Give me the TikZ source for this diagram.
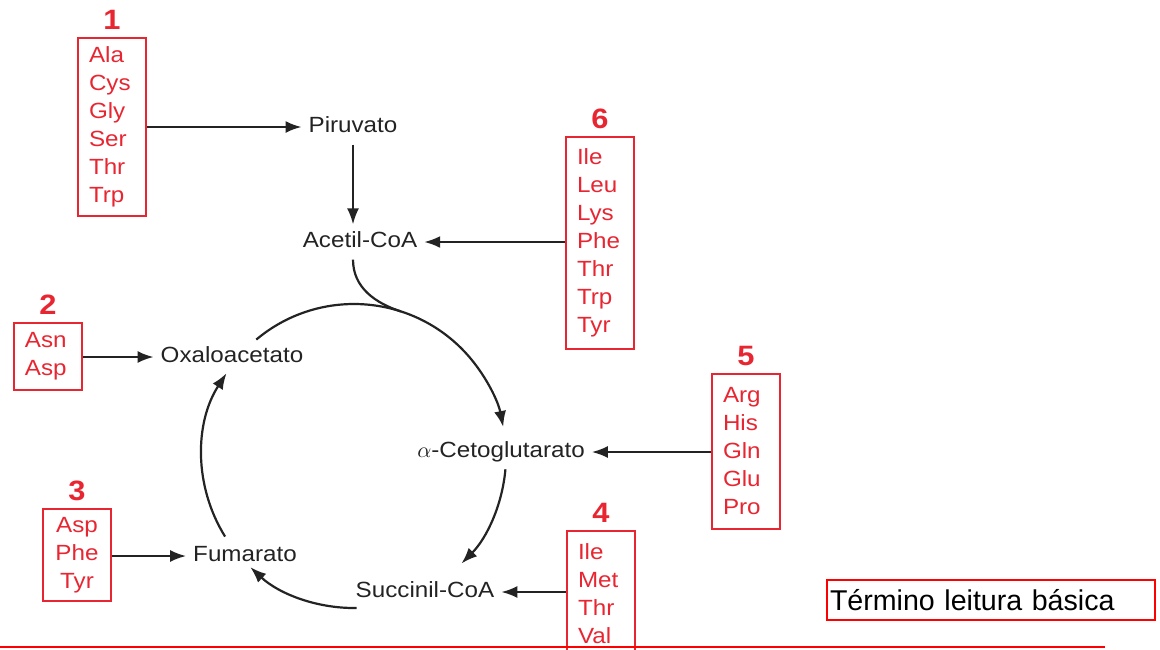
\documentclass[tikz,border=0pt]{standalone}
\usepackage{fontspec}
\setmainfont{Liberation Sans}[FakeStretch=1.1]
\newfontfamily\notefont{Liberation Sans}
\usetikzlibrary{positioning,arrows.meta}
\definecolor{aared}{RGB}{232,38,50}
\definecolor{ink}{RGB}{35,35,35}

\begin{document}
\begin{tikzpicture}
	[x=0.5pt, y=0.5pt,
	aabox/.style={draw=aared, text=aared, line width=1pt, anchor=north west, align=left,
		text width=23pt, inner xsep=5.5pt, inner ysep=0pt, minimum height=#1,
		font=\fontsize{11}{14}\selectfont},
	num/.style={text=aared, inner sep=0pt, font=\fontsize{14}{14}\selectfont\bfseries},
	met/.style={text=ink, text height=8pt, text depth=2.5pt, font=\fontsize{11}{14}\selectfont},
	arr/.style={draw=ink, line width=1.1pt, -{Latex[length=8pt,width=6pt]}}]
	\useasboundingbox (0,0) rectangle (1160,-649);
	% metabolites
	\node[met] (piru) at (353,-127) {Piruvato};
	\node[met] (acetil) at (360,-242) {Acetil-CoA};
	\node[met] (oxa) at (232,-357) {Oxaloacetato};
	\node[met] (ceto) at (501,-452) {$\alpha$-Cetoglutarato};
	\node[met] (succ) at (425,-592) {Succinil-CoA};
	\node[met] (fuma) at (245,-556) {Fumarato};
	% amino acid groups
	\node[aabox=89pt] (b1) at (77,-37) {Ala\\Cys\\Gly\\Ser\\Thr\\Trp};
	\node[aabox=33.5pt] (b2) at (13,-322) {Asn\\Asp};
	\node[aabox=46pt, align=center] (b3) at (42,-508) {Asp\\Phe\\Tyr};
	\node[aabox=63pt] (b4) at (566,-530) {Ile\\Met\\Thr\\Val};
	\node[aabox=77.5pt] (b5) at (711,-373) {Arg\\His\\Gln\\Glu\\Pro};
	\node[aabox=106pt] (b6) at (565,-136) {Ile\\Leu\\Lys\\Phe\\Thr\\Trp\\Tyr};
	\node[num, above=3.5pt of b1] (n1) {1};
	\node[num, above=3.5pt of b2] (n2) {2};
	\node[num, above=3.5pt of b3] (n3) {3};
	\node[num, above=3.5pt of b4] (n4) {4};
	\node[num, above=3.5pt of b5] (n5) {5};
	\node[num, above=3.5pt of b6] (n6) {6};
	\draw[arr] (b1.east |- piru) -- (piru);
	\draw[arr] (piru) -- (piru |- acetil.north);
	\draw[arr] (b6.west |- acetil) -- (acetil);
	\draw[arr] (b2.east |- oxa) -- (oxa);
	\draw[arr] (b3.east |- fuma) -- (fuma);
	\draw[arr] (b5.west |- ceto) -- (ceto);
	\draw[arr] (b4.west |- succ) -- (succ);
	% cycle
	\coordinate (cyc) at (354,-456);
	\draw[draw=ink, line width=1.1pt] (piru |- acetil.south) to[out=-90, in=162] ([shift={(72:152)}]cyc);
	\draw[arr] ([shift={(130:152)}]cyc) arc[start angle=130, end angle=11, radius=152];
	\draw[arr] ([shift={(-5:152)}]cyc) arc[start angle=-5, end angle=-45, radius=152];
	\draw[arr] ([shift={(-89:152)}]cyc) arc[start angle=-89, end angle=-133, radius=152];
	\draw[arr] ([shift={(-148:152)}]cyc) arc[start angle=-148, end angle=-213, radius=152];
	% note
	\node[draw=red, line width=1pt, anchor=north west, minimum height=20pt, text width=161pt,
		align=left, inner xsep=1.5pt, font=\notefont\fontsize{14.3}{16}\selectfont] (fim) at (826,-579) {Término leitura básica};
	\draw[red, line width=1pt] (0,-647) -- (1105,-647);
\end{tikzpicture}
\end{document}
